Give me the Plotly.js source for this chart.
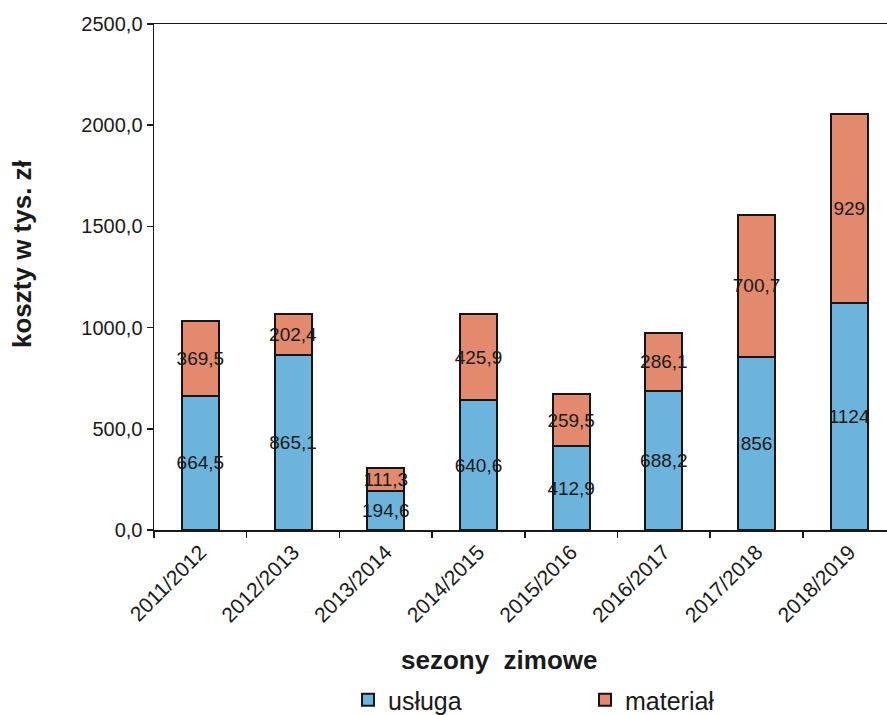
<!DOCTYPE html>
<html>
<head>
<meta charset="utf-8">
<script src="https://cdn.plot.ly/plotly-3.0.1.min.js"></script>
<style>html,body{margin:0;padding:0;background:#fff;}#chart{width:887px;height:715px;}</style>
</head>
<body>
<div id="chart"></div>
<script>
const seasons = ['2011/2012','2012/2013','2013/2014','2014/2015','2015/2016','2016/2017','2017/2018','2018/2019'];
const usluga = [664.5, 865.1, 194.6, 640.6, 412.9, 688.2, 856, 1124];
const material = [369.5, 202.4, 111.3, 425.9, 259.5, 286.1, 700.7, 929];
const seriesNames = ['usługa', 'materiał'];
const yTitle = 'koszty w tys. zł';
const xTitle = 'sezony  zimowe';

const fmt = v => String(v).replace('.', ',');
const FONT = 'Liberation Sans, Arial, sans-serif';

const common = {
  type: 'bar',
  x: seasons,
  textposition: 'inside',
  insidetextanchor: 'middle',
  constraintext: 'none',
  textangle: 0,
  textfont: {family: FONT, size: 19, color: '#1a1a1a'},
  hoverinfo: 'x+y+name'
};

const traces = [
  Object.assign({}, common, {
    name: seriesNames[0], y: usluga, text: usluga.map(fmt),
    marker: {color: '#6cb4db', line: {color: '#151515', width: 2}}
  }),
  Object.assign({}, common, {
    name: seriesNames[1], y: material, text: material.map(fmt),
    marker: {color: '#e2896e', line: {color: '#151515', width: 2}}
  })
];

const L = 154, R = 0, T = 24, B = 185, W = 887, H = 715;
const pw = W - L - R, ph = H - T - B;
const px = x => (x - L) / pw;
const py = y => (H - B - y) / ph;

const layout = {
  width: W, height: H,
  margin: {l: L, r: R, t: T, b: B, pad: 0},
  paper_bgcolor: '#ffffff', plot_bgcolor: '#ffffff',
  barmode: 'stack', bargap: 0.6,
  separators: ',.',
  font: {family: FONT, color: '#1a1a1a'},
  showlegend: true,
  legend: {
    orientation: 'h', x: px(348), xanchor: 'left',
    yref: 'container', y: (H - 700) / H, yanchor: 'middle',
    font: {family: FONT, size: 25, color: '#1a1a1a'},
    entrywidth: 192, entrywidthmode: 'pixels', itemwidth: 30,
    traceorder: 'normal', bgcolor: 'rgba(0,0,0,0)', borderwidth: 0
  },
  xaxis: {
    type: 'category', range: [-0.5, 7.407], automargin: false,
    showline: true, linecolor: '#1a1a1a', linewidth: 1.5, mirror: true,
    ticks: 'outside', tickson: 'boundaries', ticklen: 6, tickcolor: '#1a1a1a', tickwidth: 1.5,
    tickangle: -45, tickfont: {family: FONT, size: 21, color: '#1a1a1a'},
    showgrid: false, zeroline: false
  },
  yaxis: {
    range: [0, 2500], dtick: 500, tick0: 0, tickformat: '.1f', automargin: false,
    showline: true, linecolor: '#1a1a1a', linewidth: 1.5,
    ticks: 'outside', ticklen: 6, tickcolor: '#1a1a1a', tickwidth: 1.5,
    tickfont: {family: FONT, size: 20, color: '#1a1a1a'},
    showgrid: false, zeroline: false
  },
  annotations: [
    {text: '<b>' + yTitle + '</b>', xref: 'paper', yref: 'paper', x: px(22), y: py(254),
     textangle: -90, showarrow: false, xanchor: 'center', yanchor: 'middle',
     font: {family: FONT, size: 26, color: '#1a1a1a'}},
    {text: '<b>' + xTitle + '</b>', xref: 'paper', yref: 'paper', x: px(499), y: py(660),
     showarrow: false, xanchor: 'center', yanchor: 'middle',
     font: {family: FONT, size: 26, color: '#1a1a1a'}}
  ]
};

Plotly.newPlot('chart', traces, layout, {displayModeBar: false, staticPlot: true});
</script>
</body>
</html>
